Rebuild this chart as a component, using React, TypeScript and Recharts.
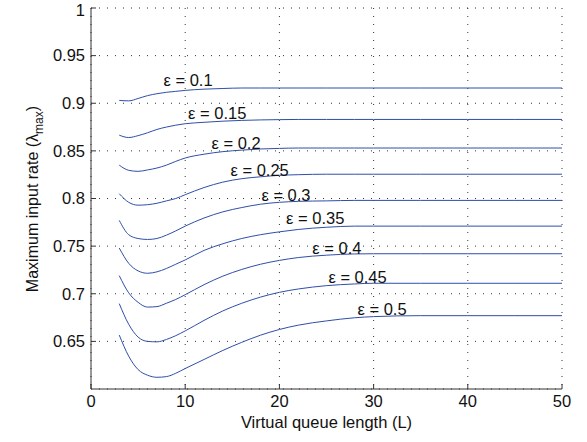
import React from 'react';
import { LineChart, Line, XAxis, YAxis, CartesianGrid, ReferenceDot } from 'recharts';

// queue length samples
const L = [3, 4, 5, 6, 7, 8, 9, 10, 12, 14, 16, 18, 20, 22, 25, 28, 30, 35, 40, 45, 50];

// maximum input rate per epsilon
const eps010 = [0.903, 0.9025, 0.905, 0.908, 0.91, 0.9115, 0.9125, 0.9135, 0.9148, 0.9155, 0.916, 0.916, 0.916, 0.916, 0.916, 0.916, 0.916, 0.916, 0.916, 0.916, 0.916];
const eps015 = [0.8665, 0.864, 0.866, 0.869, 0.8725, 0.875, 0.877, 0.8785, 0.88, 0.8812, 0.882, 0.8825, 0.8828, 0.883, 0.883, 0.883, 0.883, 0.883, 0.883, 0.883, 0.883];
const eps020 = [0.835, 0.8296, 0.8285, 0.83, 0.832, 0.835, 0.839, 0.8425, 0.8465, 0.8492, 0.8508, 0.852, 0.8526, 0.853, 0.853, 0.853, 0.853, 0.853, 0.853, 0.853, 0.853];
const eps025 = [0.805, 0.796, 0.793, 0.7935, 0.795, 0.7975, 0.8, 0.804, 0.8115, 0.8172, 0.8208, 0.8228, 0.8243, 0.825, 0.8255, 0.8255, 0.8255, 0.8255, 0.8255, 0.8255, 0.8255];
const eps030 = [0.777, 0.762, 0.758, 0.757, 0.758, 0.7615, 0.766, 0.771, 0.7795, 0.786, 0.7905, 0.794, 0.796, 0.797, 0.7975, 0.798, 0.798, 0.798, 0.798, 0.798, 0.798];
const eps035 = [0.748, 0.732, 0.724, 0.7215, 0.723, 0.7265, 0.731, 0.7355, 0.7455, 0.7525, 0.758, 0.762, 0.765, 0.7675, 0.7698, 0.771, 0.771, 0.771, 0.771, 0.771, 0.771];
const eps040 = [0.719, 0.701, 0.691, 0.686, 0.6865, 0.69, 0.694, 0.699, 0.7095, 0.7185, 0.7255, 0.731, 0.735, 0.738, 0.7405, 0.7418, 0.742, 0.742, 0.742, 0.742, 0.742];
const eps045 = [0.6896, 0.668, 0.6545, 0.65, 0.6495, 0.652, 0.656, 0.661, 0.672, 0.682, 0.69, 0.6965, 0.7015, 0.705, 0.7085, 0.7103, 0.711, 0.711, 0.711, 0.711, 0.711];
const eps050 = [0.6566, 0.6345, 0.6204, 0.6145, 0.6123, 0.613, 0.6165, 0.6215, 0.631, 0.6405, 0.649, 0.6565, 0.6625, 0.667, 0.6715, 0.6748, 0.676, 0.677, 0.677, 0.677, 0.677];

const seriesKeys = ['e010', 'e015', 'e020', 'e025', 'e030', 'e035', 'e040', 'e045', 'e050'];
const seriesValues = [eps010, eps015, eps020, eps025, eps030, eps035, eps040, eps045, eps050];

// curve labels: text and anchor (in data units)
const labelText = ['ε = 0.1', 'ε = 0.15', 'ε = 0.2', 'ε = 0.25', 'ε = 0.3', 'ε = 0.35', 'ε = 0.4', 'ε = 0.45', 'ε = 0.5'];
const labelX = [10.3, 13.4, 15.4, 17.9, 20.7, 23.8, 26.1, 28.3, 30.9];
const labelY = [0.9246, 0.8896, 0.858, 0.8296, 0.804, 0.779, 0.7476, 0.717, 0.6837];

const xTicks = [0, 10, 20, 30, 40, 50];
const yTicks = [0.65, 0.7, 0.75, 0.8, 0.85, 0.9, 0.95, 1];

const data = L.map((l, i) => {
  const row: Record<string, number> = { L: l };
  seriesKeys.forEach((k, s) => {
    row[k] = seriesValues[s][i];
  });
  return row;
});

const FONT = '"Liberation Sans", Arial, Helvetica, sans-serif';
const LINE = '#2f4ea8';
const FS = 16.5;

const YLabel = () => (
  <text
    x={32}
    y={199}
    transform="rotate(-90 32 199)"
    textAnchor="middle"
    dominantBaseline="central"
    fontFamily={FONT}
    fontSize={16}
    fill="#111"
  >
    Maximum input rate (λ
    <tspan baselineShift="sub" fontSize={12}>max</tspan>
    )
  </text>
);

export default function App() {
  return (
    <div style={{ position: 'absolute', left: 0, top: 0, width: 587, height: 442, background: '#fff' }}>
      <LineChart
        width={587}
        height={442}
        data={data}
        margin={{ top: 8, right: 25, bottom: 23, left: 31 }}
        style={{ fontFamily: FONT }}
      >
        <CartesianGrid stroke="#333" strokeDasharray="1 7" />
        <XAxis
          dataKey="L"
          type="number"
          domain={[0, 50]}
          ticks={xTicks}
          height={30}
          stroke="#333"
          tickSize={-5}
          tickMargin={11}
          tick={{ fill: '#111', fontSize: FS }}
          label={{ value: 'Virtual queue length (L)', position: 'insideBottom', offset: -9, fill: '#111', fontSize: FS }}
        />
        <YAxis
          type="number"
          domain={[0.6, 1]}
          ticks={yTicks}
          width={60}
          stroke="#333"
          tickSize={-5}
          tickMargin={11}
          tick={{ fill: '#111', fontSize: FS }}
          label={<YLabel />}
        />
        {seriesKeys.map((k) => (
          <Line
            key={k}
            dataKey={k}
            type="monotone"
            stroke={LINE}
            strokeWidth={1}
            dot={false}
            isAnimationActive={false}
          />
        ))}
        {labelText.map((t, i) => (
          <ReferenceDot
            key={t}
            x={labelX[i]}
            y={labelY[i]}
            r={0}
            fill="none"
            stroke="none"
            label={{ value: t, position: 'center', fill: '#111', fontSize: FS }}
          />
        ))}
      </LineChart>
    </div>
  );
}
